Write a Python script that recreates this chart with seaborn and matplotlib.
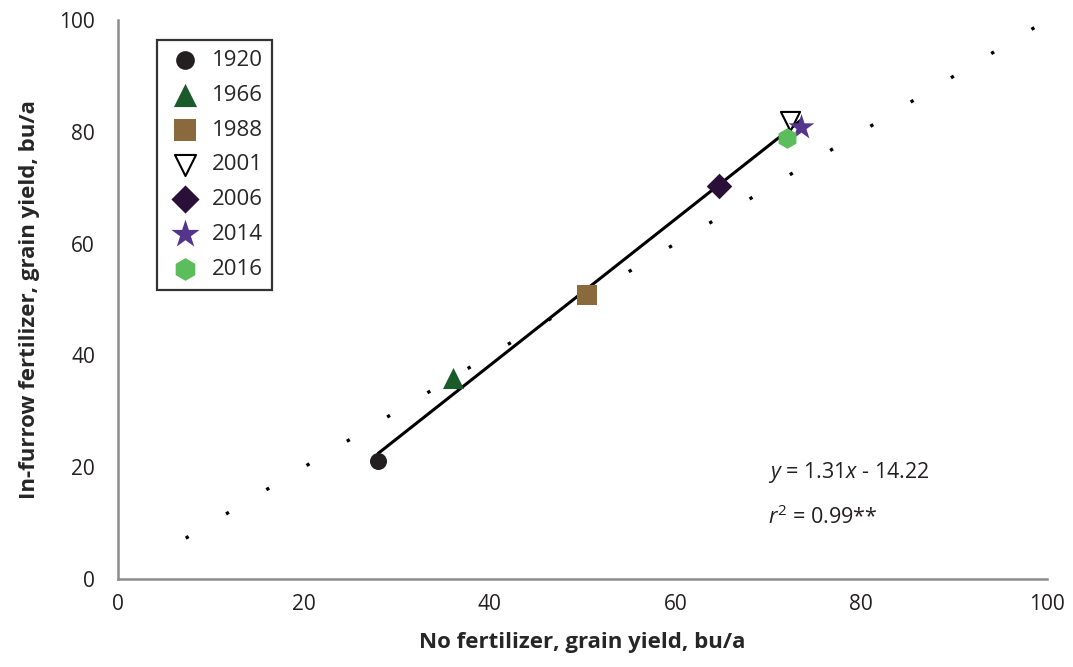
import numpy as np
import pandas as pd
import seaborn as sns
import matplotlib.pyplot as plt

# data
years = ["1920", "1966", "1988", "2001", "2006", "2014", "2016"]
no_fert = [28.0, 36.1, 50.5, 72.3, 64.7, 73.5, 72.0]
in_furrow = [21.1, 36.0, 50.8, 81.9, 70.3, 80.9, 78.9]
markers = ["o", "^", "s", "v", "D", "*", "h"]
colors = ["#231f20", "#1b5a2b", "#8a6a3d", "white", "#2a1038", "#55358c", "#5cbd5c"]
sizes = [150, 230, 190, 190, 170, 380, 220]
slope, intercept = 1.31, -14.22
one_to_one = [5, 100]

df = pd.DataFrame({"year": years, "x": no_fert, "y": in_furrow})

sns.set_theme(style="white")
plt.rcParams["font.family"] = ["Open Sans", "DejaVu Sans"]
plt.rcParams["mathtext.fontset"] = "custom"
plt.rcParams["mathtext.rm"] = "Open Sans"
plt.rcParams["mathtext.it"] = "Open Sans:italic"

fig, ax = plt.subplots(figsize=(10.73, 6.67), dpi=100)
fig.subplots_adjust(left=0.110, right=0.9758, bottom=0.132, top=0.970)

# 1:1 reference line, sparse dots
ax.plot(one_to_one, one_to_one, color="black", lw=2.4,
        linestyle=(6.65, (1.0, 13.1)), zorder=1)

# regression line over the data range
xr = np.array([df["x"].min(), df["x"].max()])
sns.lineplot(x=xr, y=slope * xr + intercept, color="black", lw=2.2, ax=ax, zorder=2)

for i, row in df.iterrows():
    is_open = row["year"] == "2001"
    sns.scatterplot(x=[row["x"]], y=[row["y"]], marker=markers[i], s=sizes[i],
                    color=colors[i], edgecolor="black" if is_open else colors[i],
                    linewidth=1.5 if is_open else 0,
                    label=row["year"], ax=ax, zorder=3)

ax.set_xlim(0, 100)
ax.set_ylim(0, 100)
ax.set_xticks(range(0, 101, 20))
ax.set_yticks(range(0, 101, 20))
sns.despine(ax=ax)
for s in ["left", "bottom"]:
    ax.spines[s].set_color("#8c8c8c")
    ax.spines[s].set_linewidth(1.8)
ax.tick_params(axis="x", direction="in", length=7, width=1.8, color="#8c8c8c",
               labelsize=15, pad=11, labelcolor="#231f20")
ax.tick_params(axis="y", direction="out", length=8.5, width=1.8, color="#8c8c8c",
               labelsize=15, pad=8, labelcolor="#231f20")

ax.set_xlabel("No fertilizer, grain yield, bu/a", fontsize=16, fontweight="bold", labelpad=12)
ax.set_ylabel("In-furrow fertilizer, grain yield, bu/a", fontsize=16, fontweight="bold", labelpad=14)

ax.text(70, 19.1, r"$y$ = 1.31$x$ - 14.22", fontsize=15.5, va="center", color="#231f20")
ax.text(70, 11.1, r"$r^2$ = 0.99**", fontsize=15.5, va="center", color="#231f20")

leg = ax.legend(loc="upper left", bbox_to_anchor=(0.042, 0.964), borderaxespad=0,
                fontsize=16, frameon=True, fancybox=False, edgecolor="black",
                labelspacing=0.62, handletextpad=0.4, borderpad=0.45, handlelength=1.6,
                markerscale=1.1)
leg.get_frame().set_linewidth(1.6)

fig.savefig("out.png", dpi=100)
